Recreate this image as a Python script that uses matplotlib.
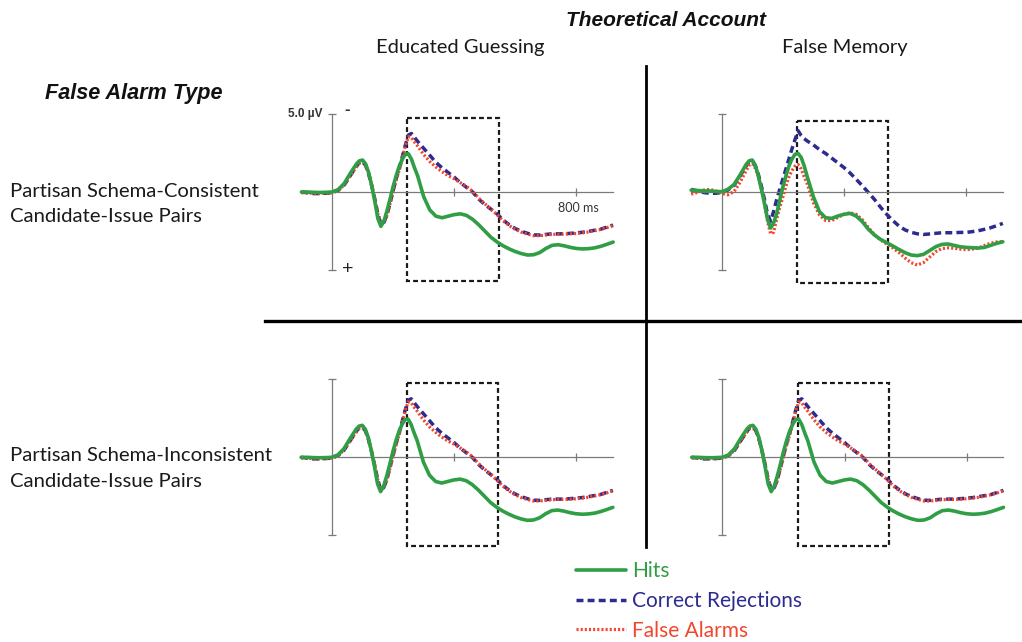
import matplotlib
matplotlib.use("Agg")
import matplotlib.pyplot as plt
from matplotlib.patches import Rectangle
from matplotlib.lines import Line2D

# ---------------- data ----------------
time_ms = [-100, -80, -60, -40, -20, 0, 20, 40, 60,
           80, 90, 100, 110, 120, 130, 140, 150, 160, 170, 180, 190, 200, 210, 220, 230, 240, 250,
           260, 270, 280,
           300, 320, 340, 360, 380, 400, 420, 440, 460, 480, 500, 520, 540, 560, 580, 600,
           620, 640, 660, 680, 700, 720, 740, 760, 780, 800, 820, 840, 860, 880, 900, 920]

# Educated-guessing pattern (µV, negative plotted up)
eg_hits = [0.0, 0.0, 0.02, 0.03, 0.02, 0.0, -0.15, -0.55, -1.2,
           -1.8, -2.0, -2.05, -1.8, -1.25, -0.4, 0.6, 1.7, 2.2, 1.85, 1.2, 0.45, -0.35, -1.05, -1.65, -2.1,
           -2.42, -2.45, -2.1, -1.55, -1.05,
           0.3, 1.15, 1.55, 1.65, 1.55, 1.45, 1.4, 1.5, 1.75, 2.1, 2.5, 2.9, 3.2, 3.45, 3.65, 3.82,
           3.95, 4.04, 4.02, 3.88, 3.62, 3.42, 3.38, 3.45, 3.55, 3.62, 3.65, 3.63, 3.58, 3.48, 3.35, 3.21]
eg_cr = [0.0, 0.05, 0.1, 0.1, 0.08, 0.05, -0.1, -0.45, -1.05,
         -1.65, -1.9, -1.95, -1.7, -1.15, -0.4, 0.45, 1.4, 2.05, 1.95, 1.45, 0.7, -0.1, -0.85, -1.5, -2.25,
         -3.0, -3.65, -3.75, -3.5, -3.25,
         -2.8, -2.35, -1.9, -1.55, -1.25, -0.95, -0.6, -0.3, 0.0, 0.45, 0.8, 1.1, 1.4, 1.8, 2.1, 2.35,
         2.52, 2.65, 2.75, 2.76, 2.72, 2.68, 2.68, 2.68, 2.65, 2.62, 2.58, 2.52, 2.45, 2.38, 2.25, 2.12]
eg_fa = [0.05, 0.05, 0.1, 0.1, 0.08, 0.05, -0.1, -0.45, -1.05,
         -1.6, -1.85, -1.9, -1.7, -1.15, -0.4, 0.45, 1.4, 2.05, 1.95, 1.5, 0.75, 0.0, -0.75, -1.4, -2.15,
         -2.95, -3.55, -3.5, -3.2, -2.95,
         -2.4, -1.95, -1.6, -1.3, -1.05, -0.85, -0.6, -0.35, -0.05, 0.4, 0.75, 1.1, 1.45, 1.85, 2.15, 2.4,
         2.58, 2.7, 2.8, 2.8, 2.76, 2.72, 2.7, 2.7, 2.68, 2.66, 2.62, 2.56, 2.48, 2.4, 2.28, 2.15]

# False-memory pattern
fm_hits = [-0.1, -0.08, -0.05, -0.05, -0.02, 0.0, -0.15, -0.45, -1.07,
           -1.75, -1.98, -2.03, -1.7, -1.0, -0.15, 0.75, 1.75, 2.33, 2.0, 1.4, 0.55, -0.3, -1.0, -1.65, -2.1,
           -2.4, -2.45, -2.2, -1.65, -0.96,
           0.32, 1.28, 1.67, 1.71, 1.56, 1.45, 1.39, 1.56, 1.92, 2.41, 2.78, 3.06, 3.27, 3.48, 3.7, 3.91,
           4.06, 4.1, 4.02, 3.78, 3.53, 3.38, 3.35, 3.44, 3.53, 3.57, 3.59, 3.61, 3.57, 3.44, 3.31, 3.21]
fm_cr = [-0.15, -0.05, 0.05, 0.1, 0.1, 0.05, -0.1, -0.4, -1.0,
         -1.65, -1.9, -1.95, -1.65, -1.1, -0.35, 0.5, 1.45, 1.9, 1.25, 0.5, -0.15, -0.8, -1.45, -2.1, -2.75,
         -3.35, -3.91, -3.6, -3.4, -3.25,
         -3.0, -2.7, -2.45, -2.15, -1.85, -1.55, -1.2, -0.8, -0.38, 0.05, 0.5, 1.0, 1.45, 1.85, 2.2, 2.45,
         2.6, 2.7, 2.74, 2.71, 2.67, 2.63, 2.63, 2.63, 2.61, 2.61, 2.56, 2.5, 2.41, 2.31, 2.18, 2.03]
fm_fa = [0.15, 0.05, -0.1, -0.15, -0.05, 0.1, 0.2, 0.0, -0.6,
         -1.35, -1.7, -1.8, -1.5, -1.0, -0.15, 0.8, 1.9, 2.7, 2.6, 1.75, 1.0, 0.35, -0.35, -0.95, -1.35,
         -1.65, -1.75, -1.45, -0.95, -0.5,
         0.7, 1.5, 1.85, 1.85, 1.65, 1.45, 1.35, 1.45, 1.8, 2.3, 2.75, 3.1, 3.35, 3.6, 3.9, 4.25,
         4.55, 4.7, 4.55, 4.2, 3.85, 3.65, 3.6, 3.62, 3.68, 3.72, 3.68, 3.6, 3.45, 3.3, 3.22, 3.2]

condition_labels = ["Hits", "Correct Rejections", "False Alarms"]
account_labels = ["Educated Guessing", "False Memory"]
row_labels = [["Partisan Schema-Consistent", "Candidate-Issue Pairs"],
              ["Partisan Schema-Inconsistent", "Candidate-Issue Pairs"]]
main_title = "Theoretical Account"
row_title = "False Alarm Type"
window_ms = (247, 545)
amp_bound = 5.0
tick_ms = [400, 800]

# ---------------- layout ----------------
W, H = 1022, 642
fig = plt.figure(figsize=(W / 100, H / 100), dpi=100)
fig.patch.set_facecolor("white")

PX_MS = 0.3056
PX_UV = 15.6
XL = (-110, 930)
YL = (6.5, -5.5)

col_green = "#2f9e44"
col_navy = "#2d2b8f"
col_red = "#f2462e"
axis_gray = "#7a7a7a"

panels = [
    # (origin x px, origin y px, data, box top, box bottom)
    (332.0, 192.0, (eg_hits, eg_cr, eg_fa), -4.75, 5.7),
    (721.7, 191.7, (fm_hits, fm_cr, fm_fa), -4.5, 5.85),
    (331.7, 457.3, (eg_hits, eg_cr, eg_fa), -4.74, 5.67),
    (722.3, 457.3, (eg_hits, eg_cr, eg_fa), -4.78, 5.67),
]

handles = None
for i, (x0, y0, (hits, cr, fa), btop, bbot) in enumerate(panels):
    left = x0 + XL[0] * PX_MS
    width = (XL[1] - XL[0]) * PX_MS
    top = y0 + YL[1] * PX_UV
    height = (YL[0] - YL[1]) * PX_UV
    ax = fig.add_axes([left / W, 1 - (top + height) / H, width / W, height / H])
    ax.set_xlim(*XL)
    ax.set_ylim(*YL)
    ax.patch.set_visible(False)
    for s in ("top", "right"):
        ax.spines[s].set_visible(False)
    ax.spines["left"].set_position(("data", 0))
    ax.spines["bottom"].set_position(("data", 0))
    ax.spines["left"].set_bounds(-amp_bound, amp_bound)
    ax.spines["bottom"].set_bounds(time_ms[0], time_ms[-1])
    for s in ("left", "bottom"):
        ax.spines[s].set_color(axis_gray)
        ax.spines[s].set_linewidth(0.9)
    ax.set_xticks(tick_ms)
    ax.set_yticks([-amp_bound, amp_bound])
    ax.set_xticklabels([])
    ax.set_yticklabels([])
    ax.tick_params(axis="both", direction="inout", length=6, width=0.9, color=axis_gray)

    # dashed analysis window
    ax.add_patch(Rectangle((window_ms[0], btop), window_ms[1] - window_ms[0], bbot - btop,
                           fill=False, edgecolor="#1a1a1a", linewidth=1.6,
                           linestyle=(0, (2.2, 1.4)), zorder=1))

    l_cr, = ax.plot(time_ms, cr, color=col_navy, lw=2.5, linestyle=(0, (2.0, 1.2)), zorder=2,
                    dash_joinstyle="round")
    l_fa, = ax.plot(time_ms, fa, color=col_red, lw=2.3, linestyle=(0, (0.65, 0.65)), zorder=3,
                    dash_joinstyle="round")
    l_hits, = ax.plot(time_ms, hits, color=col_green, lw=2.6, zorder=4, solid_capstyle="round",
                      solid_joinstyle="round")

    if i == 0:
        handles = [l_hits, l_cr, l_fa]
        ax.text(-30, -amp_bound, "5.0 µV", ha="right", va="center", fontsize=8.5,
                family="Liberation Sans", fontweight="bold", color="#333333")
        ax.text(50, -5.3, "-", ha="center", va="center", fontsize=12, family="Liberation Sans",
                fontweight="bold", color="#333333")
        ax.text(50, 5.0, "+", ha="center", va="center", fontsize=14, family="Liberation Sans",
                color="#222222")
        ax.text(805, 1.05, "800 ms", ha="center", va="center", fontsize=9, family="Lato",
                color="#333333")

# ---------------- texts ----------------
def px(x, y):
    return x / W, 1 - y / H

fig.text(*px(666, 20), main_title, ha="center", va="center", fontsize=15,
         family="Liberation Sans", fontweight="bold", fontstyle="italic", color="#111111")
fig.text(*px(460, 47), account_labels[0], ha="center", va="center", fontsize=14.5,
         family="Lato", color="#1a1a1a")
fig.text(*px(845, 47), account_labels[1], ha="center", va="center", fontsize=14.5,
         family="Lato", color="#1a1a1a")
fig.text(*px(45, 93), row_title, ha="left", va="center", fontsize=15.6,
         family="Liberation Sans", fontweight="bold", fontstyle="italic", color="#111111")

row_line_y = [(190, 215), (454, 480)]
for lines, ys in zip(row_labels, row_line_y):
    for txt, yy in zip(lines, ys):
        fig.text(*px(10, yy), txt, ha="left", va="center_baseline", fontsize=14.6,
                 family="Lato", color="#1a1a1a")

# dividers
fig.add_artist(Line2D([265 / W, 1.0], [1 - 321 / H, 1 - 321 / H], color="black", lw=2.4,
                      transform=fig.transFigure))
fig.add_artist(Line2D([646 / W, 646 / W], [1 - 66 / H, 1 - 547 / H], color="black", lw=2.0,
                      transform=fig.transFigure))

# legend
fig.legend(handles=handles, labels=condition_labels, loc="upper left",
           bbox_to_anchor=(576 / W, 1 - 561 / H), frameon=False,
           prop={"family": "Lato", "size": 15}, handlelength=2.4, handletextpad=0.3,
           labelspacing=0.47, borderpad=0, borderaxespad=0, labelcolor="linecolor")

fig.savefig("out.png", dpi=100, facecolor="white")
